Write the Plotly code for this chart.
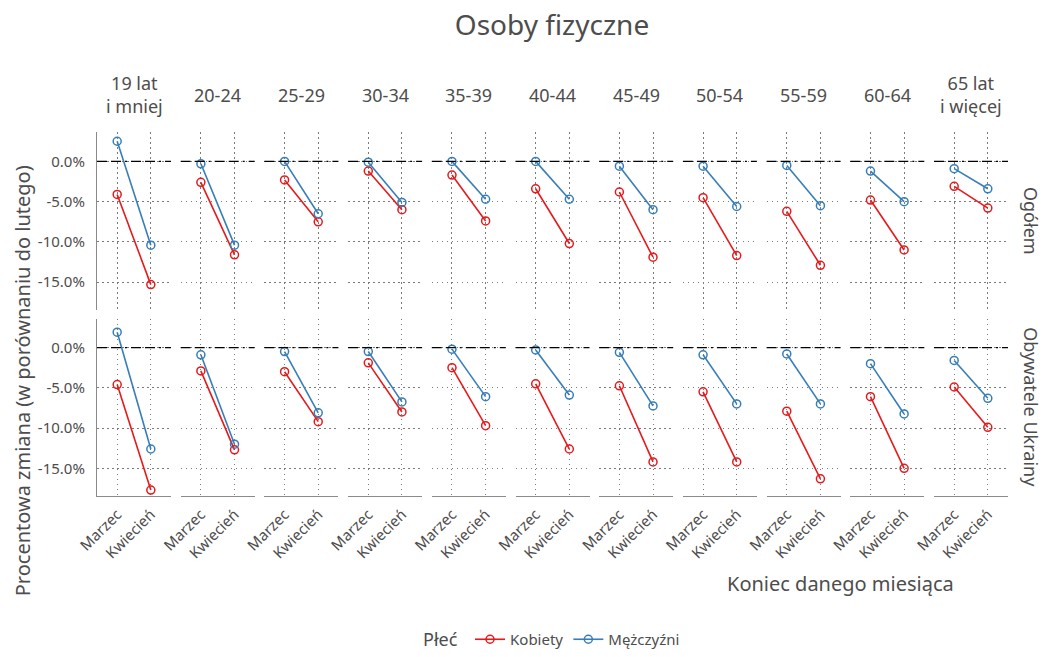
import plotly.graph_objects as go

# ---------------- data (percent change vs February) ----------------
groups = ["19 lat<br>i mniej", "20-24", "25-29", "30-34", "35-39", "40-44",
          "45-49", "50-54", "55-59", "60-64", "65 lat<br>i więcej"]
months = ["Marzec", "Kwiecień"]
rows = ["Ogółem", "Obywatele Ukrainy"]
series = ["Kobiety", "Mężczyźni"]

og_k_mar = [-4.1, -2.6, -2.3, -1.2, -1.7, -3.4, -3.8, -4.5, -6.2, -4.8, -3.1]
og_k_kwi = [-15.3, -11.6, -7.5, -6.0, -7.4, -10.2, -11.9, -11.7, -12.9, -11.0, -5.8]
og_m_mar = [2.5, -0.3, 0.0, -0.1, 0.0, 0.0, -0.6, -0.6, -0.5, -1.2, -0.9]
og_m_kwi = [-10.4, -10.4, -6.5, -5.1, -4.7, -4.7, -6.0, -5.6, -5.5, -5.0, -3.4]
ua_k_mar = [-4.6, -2.9, -3.0, -1.9, -2.5, -4.5, -4.75, -5.5, -7.9, -6.1, -4.9]
ua_k_kwi = [-17.7, -12.7, -9.2, -8.0, -9.7, -12.6, -14.2, -14.2, -16.3, -15.0, -9.9]
ua_m_mar = [1.9, -0.9, -0.5, -0.5, -0.2, -0.3, -0.6, -0.9, -0.8, -2.0, -1.6]
ua_m_kwi = [-12.6, -12.0, -8.1, -6.75, -6.1, -5.9, -7.25, -7.0, -7.0, -8.25, -6.3]

y_ticks = [0, -5, -10, -15]
y_ticktext = ["0.0%", "-5.0%", "-10.0%", "-15.0%"]

# ---------------- styling ----------------
W, H = 1043, 657
FONT = "Noto Sans"
TXT = "#4d4d4d"
GRID = "#7a7a7a"
GRID_DASH = "1.5px,3.5px"
COLORS = {"Kobiety": "#E41A1C", "Mężczyźni": "#377EB8"}

data = {
    (0, "Kobiety"): (og_k_mar, og_k_kwi),
    (0, "Mężczyźni"): (og_m_mar, og_m_kwi),
    (1, "Kobiety"): (ua_k_mar, ua_k_kwi),
    (1, "Mężczyźni"): (ua_m_mar, ua_m_kwi),
}

panel_left0 = 97.0
panel_stride = 83.7
panel_w = 74.0
row_px = [(133.0, 311.0), (320.0, 498.0)]
y_range = [-18.4, 3.6]

fig = go.Figure()
layout = {}
shapes = []
annotations = []

for r in range(2):
    for c in range(len(groups)):
        n = r * len(groups) + c + 1
        xs = "" if n == 1 else str(n)
        x0 = panel_left0 + c * panel_stride
        x1 = x0 + panel_w
        ytop, ybot = row_px[r]
        layout["xaxis" + xs] = dict(
            domain=[x0 / W, x1 / W],
            anchor="y" + xs,
            type="category",
            categoryorder="array",
            categoryarray=months,
            range=[-0.6, 1.6],
            showgrid=True, gridcolor=GRID, griddash=GRID_DASH, gridwidth=1,
            zeroline=False,
            showline=(r == 1), linecolor="#8a8a8a", linewidth=1.2,
            showticklabels=(r == 1), tickangle=-45,
            tickfont=dict(family=FONT, size=15, color=TXT),
            ticks="", ticklabelstandoff=3, automargin=False, fixedrange=True,
        )
        layout["yaxis" + xs] = dict(
            domain=[1 - ybot / H, 1 - ytop / H],
            anchor="x" + xs,
            range=y_range,
            tickvals=y_ticks, ticktext=y_ticktext,
            showgrid=True, gridcolor=GRID, griddash=GRID_DASH, gridwidth=1,
            zeroline=False,
            showline=(c == 0), linecolor="#8a8a8a", linewidth=1.2,
            showticklabels=(c == 0),
            tickfont=dict(family=FONT, size=15, color=TXT),
            ticks="", ticklabelstandoff=8, automargin=False, fixedrange=True,
        )
        for s in series:
            mar, kwi = data[(r, s)]
            fig.add_trace(go.Scatter(
                x=months, y=[mar[c], kwi[c]],
                xaxis="x" + xs, yaxis="y" + xs,
                mode="lines+markers",
                line=dict(color=COLORS[s], width=1.6),
                marker=dict(symbol="circle-open", size=8, color=COLORS[s],
                            line=dict(width=1.5, color=COLORS[s])),
                name=s, legendgroup=s, showlegend=(n == 1),
                hoverinfo="skip",
            ))
        shapes.append(dict(
            type="line", xref="x" + xs + " domain", yref="y" + xs,
            x0=0, x1=1, y0=0, y1=0, layer="above",
            line=dict(color="black", width=1.3, dash="10px,4px,10px,4px,2px,4px"),
        ))
        if r == 0:
            annotations.append(dict(
                text=groups[c], xref="paper", yref="paper",
                x=(x0 + x1) / 2 / W, y=1 - 95 / H,
                showarrow=False, xanchor="center", yanchor="middle",
                font=dict(family=FONT, size=18, color=TXT),
            ))
    annotations.append(dict(
        text=rows[r], xref="paper", yref="paper",
        x=1031 / W, y=1 - (row_px[r][0] + row_px[r][1]) / 2 / H,
        textangle=90, showarrow=False, xanchor="center", yanchor="middle",
        font=dict(family=FONT, size=18, color=TXT),
    ))

annotations.append(dict(
    text="Procentowa zmiana (w porównaniu do lutego)", xref="paper", yref="paper",
    x=22 / W, y=1 - 383 / H, textangle=-90, showarrow=False,
    xanchor="center", yanchor="middle",
    font=dict(family=FONT, size=20, color=TXT),
))
annotations.append(dict(
    text="Koniec danego miesiąca", xref="paper", yref="paper",
    x=840 / W, y=1 - 586 / H, showarrow=False,
    xanchor="center", yanchor="middle",
    font=dict(family=FONT, size=20, color=TXT),
))

fig.update_layout(
    **layout,
    width=W, height=H,
    margin=dict(l=0, r=0, t=0, b=0),
    paper_bgcolor="white", plot_bgcolor="white",
    title=dict(text="Osoby fizyczne", x=552 / W, xanchor="center",
               y=1 - 25 / H, yanchor="middle",
               font=dict(family=FONT, size=28, color=TXT)),
    shapes=shapes,
    annotations=annotations,
    showlegend=True,
    legend=dict(orientation="h", x=553 / W, xanchor="center",
                y=1 - 643 / H, yanchor="middle",
                title=dict(text="Płeć ", font=dict(family=FONT, size=18, color=TXT)),
                font=dict(family=FONT, size=15, color=TXT),
                itemwidth=30, bgcolor="rgba(0,0,0,0)"),
)

fig.write_html(
    "out.html",
    config={"displayModeBar": False},
    post_script="document.body.style.margin='0';document.body.style.overflow='hidden';",
)
